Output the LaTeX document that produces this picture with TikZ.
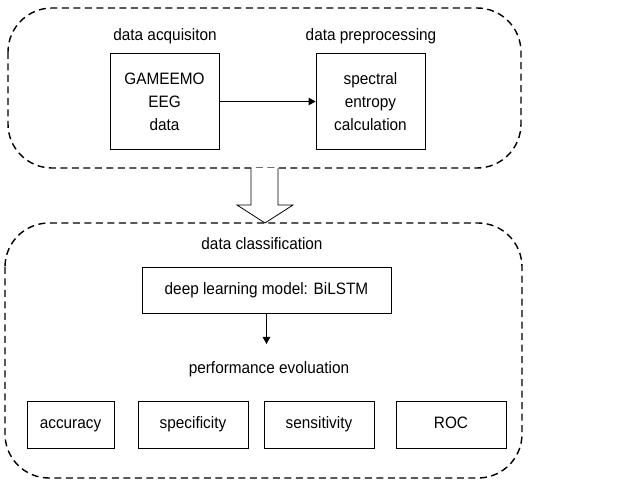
\documentclass[tikz,border=0pt]{standalone}
\usepackage{fontspec}
\setmainfont[FakeStretch=0.93]{Liberation Sans}
\usetikzlibrary{arrows.meta}
\begin{document}
\begin{tikzpicture}[x=1pt,y=-1pt,
  container/.style={draw, line width=1.4pt, dash pattern=on 7pt off 4.5pt, rounded corners=44pt},
  box/.style={draw, line width=0.8pt, inner sep=0pt, align=center},
  mbox/.style={box, text height=12pt, text depth=3.5pt, minimum height=47pt},
  lbl/.style={inner sep=0pt, anchor=base},
  arr/.style={-{Triangle[length=7pt,width=7.5pt]}, line width=0.9pt},
  every node/.style={font=\fontsize{16.5}{23}\selectfont}]
\useasboundingbox (0,0) rectangle (622,481);
% top container
\draw[container] (8,8) rectangle (521,168);
\node[lbl] (t1) at (165,41) {data acquisiton};
\node[lbl] (t2) at (371,41) {data preprocessing};
\node[box, minimum width=109pt, minimum height=96pt] (acq) at (164.5,101.5) {GAMEEMO\\EEG\\data};
\node[box, minimum width=109pt, minimum height=96pt] (pre) at (370.5,101.5) {spectral\\entropy\\calculation};
\draw[arr] (acq.east) -- (pre.west);
% big hollow arrow
\draw[line width=0.8pt, fill=white, line join=miter] (251,168) -- (251,205) -- (237,205) -- (265,223) -- (293,205) -- (278,205) -- (278,168);
% bottom container
\draw[container] (5,223) rectangle (522,478);
\node[lbl] (t3) at (262,250) {data classification};
\node[box, minimum width=249pt, minimum height=46pt] (bil) at (266.5,290) {deep learning model: BiLSTM};
\coordinate (pe) at (266.5,344);
\draw[arr] (bil.south) -- (pe);
\node[lbl] (t4) at (269,374) {performance evoluation};
\node[mbox, minimum width=87pt] (m1) at (70.5,424.5) {accuracy};
\node[mbox, minimum width=110pt] (m2) at (193,424.5) {specificity};
\node[mbox, minimum width=110pt] (m3) at (319,424.5) {sensitivity};
\node[mbox, minimum width=110pt] (m4) at (451,424.5) {ROC};
\end{tikzpicture}
\end{document}
